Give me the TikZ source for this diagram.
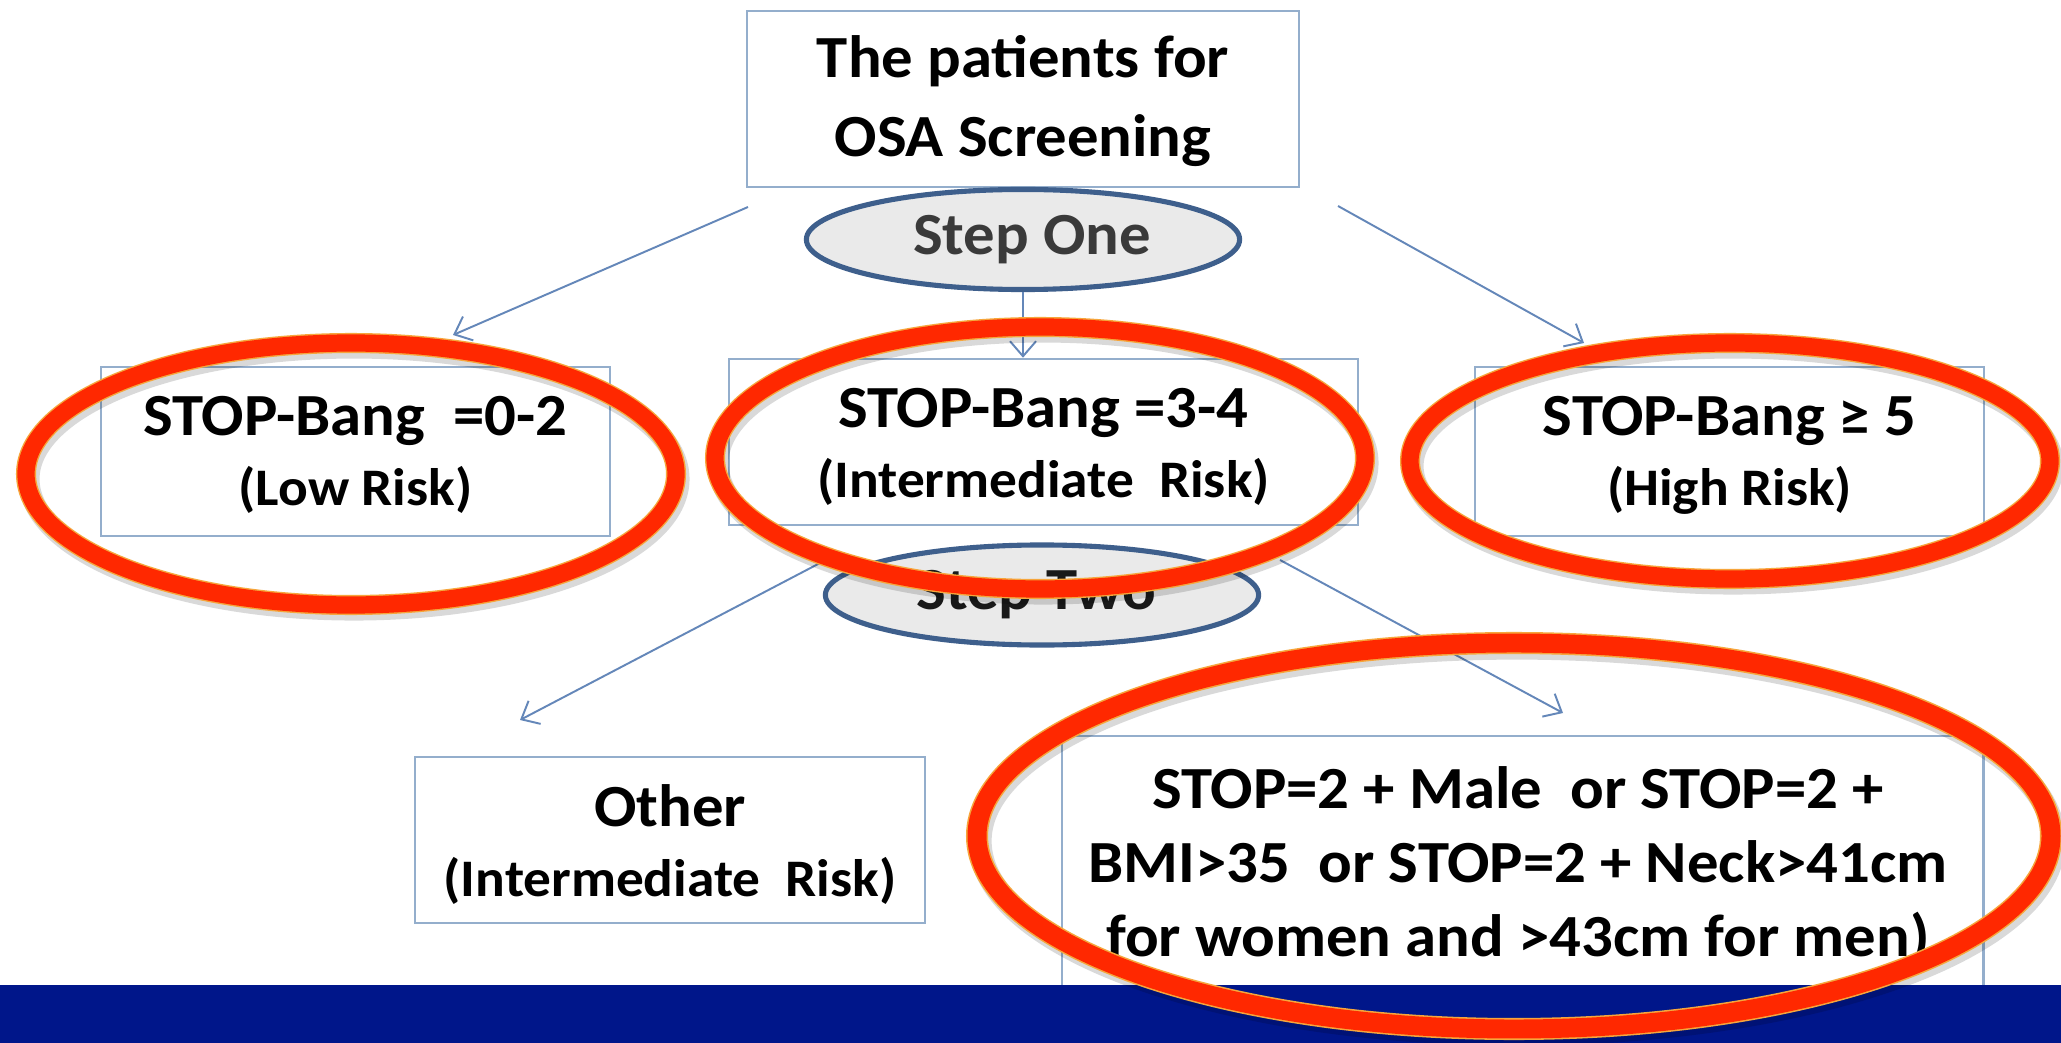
\documentclass[tikz,border=0pt]{standalone}
\usepackage{fontspec}
\setmainfont{Carlito}[FakeStretch=1.05]
\usetikzlibrary{arrows.meta,shapes.geometric}

\definecolor{boxline}{RGB}{148,174,204}
\definecolor{arrowline}{RGB}{100,135,185}
\definecolor{stepline}{RGB}{62,95,140}
\definecolor{stepfill}{RGB}{234,234,234}
\definecolor{steptext}{RGB}{58,58,58}
\definecolor{ringred}{RGB}{255,40,0}
\definecolor{ringedge}{RGB}{246,166,60}
\definecolor{barblue}{RGB}{0,22,138}

% second (smaller) line inside a box
\newcommand\riskline[1]{{\fontsize{15}{19.9}\selectfont #1}}
% invisible strut that lowers a box's text block slightly
\newcommand\headstrut{\rule{0pt}{13.3pt}}

\tikzset{
  box/.style={draw=boxline, line width=0.7pt, inner sep=0pt, align=center,
    font=\bfseries\fontsize{17}{19.9}\selectfont},
  stepnode/.style={ellipse, draw=stepline, fill=stepfill, line width=1.45pt,
    inner sep=0pt, minimum width=4.33cm, minimum height=1.0cm,
    font=\bfseries\fontsize{17}{20}\selectfont},
  flow/.style={draw=arrowline, line width=0.55pt,
    -{Straight Barb[length=0.15cm,width=0.26cm]}},
  ringshadow/.style={draw=black, opacity=0.15, line width=6pt},
  ringrim/.style={draw=ringedge, line width=5.7pt},
  ring/.style={draw=ringred, line width=4.9pt},
}

\begin{document}
\begin{tikzpicture}[x=0.01cm, y=-0.01cm]
  % page
  \fill[white] (0,0) rectangle (2061,1043);
  \useasboundingbox (0,0) rectangle (2061,1043);

  % boxes
  \node[box, minimum width=5.52cm, minimum height=1.76cm] (start) at (1023,99)
    {\headstrut The patients for\\[2.5pt]OSA Screening};
  \node[box, minimum width=5.09cm, minimum height=1.69cm] (low) at (355.5,451.5)
    {\headstrut STOP-Bang\ \ =0-2\\\riskline{(Low Risk)}};
  \node[box, minimum width=6.29cm, minimum height=1.66cm] (mid) at (1043.5,442)
    {\rule{0pt}{14pt}STOP-Bang =3-4\\\riskline{(Intermediate\ \ Risk)}};
  \node[box, minimum width=5.09cm, minimum height=1.69cm] (high) at (1729.5,451.5)
    {\headstrut STOP-Bang ≥ 5\\\riskline{(High Risk)}};
  \node[box, minimum width=5.10cm, minimum height=1.66cm] (other) at (670,840)
    {\rule{0pt}{14.5pt}Other\\\riskline{(Intermediate\ \ Risk)}};
  \node[box, minimum width=9.21cm, minimum height=3.05cm, anchor=north] (combo) at (1522.5,735) {};
  \node[align=center, anchor=base, font=\bfseries\fontsize{17}{21}\selectfont] (combotext) at (1518,1030)
    {STOP=2 + Male\ \ or STOP=2 +\\BMI>35\ \ or STOP=2 + Neck>41cm\\for women and >43cm for men)\\\riskline{(High Risk)}};

  % step labels
  \node[stepnode, text=steptext] (stepone) at (1023,239.5) {\hspace*{0.18cm}Step One};
  \node[stepnode, text=black!90] (steptwo) at (1042,595) {Step Two\hspace*{0.12cm}};

  % connector end points
  \coordinate (fromtopL) at (748,207);
  \coordinate (tolow) at (453,335);
  \coordinate (fromtopR) at (1338,206);
  \coordinate (tohigh) at (1584,343);
  \coordinate (fromtwoL) at (820,563);
  \coordinate (toother) at (520,720);
  \coordinate (fromtwoR) at (1280,560);
  \coordinate (tocombo) at (1563,713);

  % connectors
  \draw[flow] (fromtopL) -- (tolow);
  \draw[flow] (stepone.south) -- (stepone.south |- mid.north);
  \draw[flow] (fromtopR) -- (tohigh);
  \draw[flow] (fromtwoL) -- (toother);
  \draw[flow] (fromtwoR) -- (tocombo);

  % footer band
  \fill[barblue] (0,985) rectangle (2061,1043);

  % highlight rings
  \foreach \cx/\cy/\rx/\ry/\w in {351/474/325/131/1, 1040/458/325/131/1, 1730/461/320/118/1, 1514/836/537/193/1.1}{
    \draw[ringshadow, line width=\w*6pt] (\cx+3,\cy+5) ellipse [x radius=\rx, y radius=\ry];
    \draw[ringrim, line width=\w*5.7pt] (\cx,\cy) ellipse [x radius=\rx, y radius=\ry];
    \draw[ring, line width=\w*4.9pt] (\cx,\cy) ellipse [x radius=\rx, y radius=\ry];
  }
\end{tikzpicture}
\end{document}
